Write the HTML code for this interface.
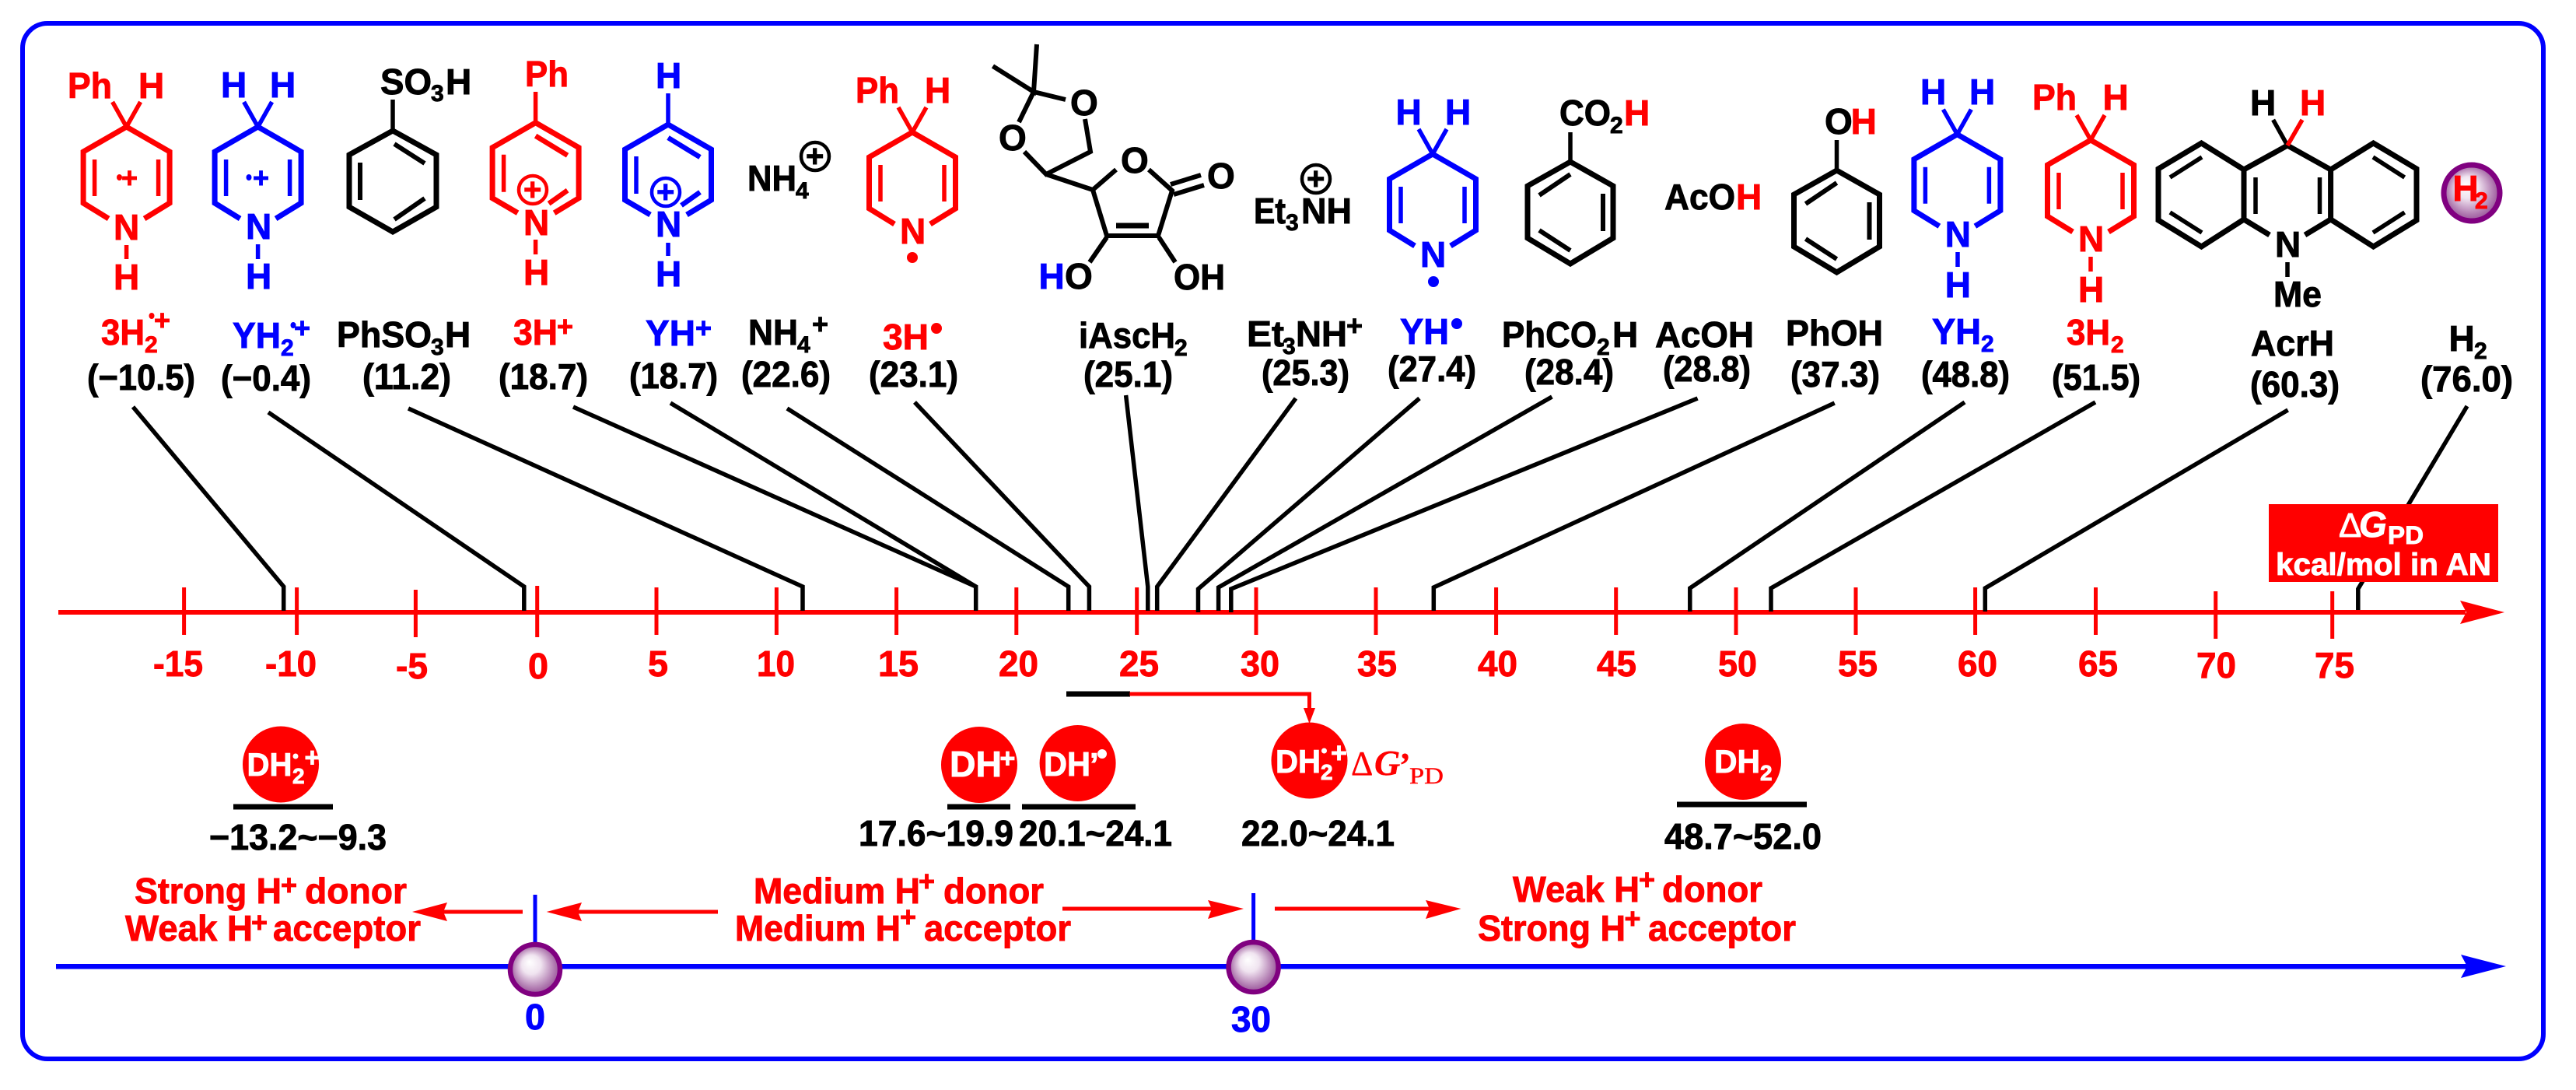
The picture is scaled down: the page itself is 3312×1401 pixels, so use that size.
<!DOCTYPE html>
<html><head><meta charset="utf-8"><style>
html,body{margin:0;padding:0;background:#fff}
svg{display:block}
text{font-family:"Liberation Sans",sans-serif;font-weight:bold;font-size:46px;fill:#000;stroke:#000;stroke-width:.9}
.r{fill:#f00;stroke:#f00}.b{fill:#00f;stroke:#00f}.w{fill:#fff;stroke:#fff}
.s{font-size:30px}.p{font-size:36px}.t{font-size:46px}
.l{fill:none;stroke:#000;stroke-width:5.5}
.sf{font-family:"Liberation Serif",serif;stroke-width:.4}
</style></head><body>
<svg xmlns="http://www.w3.org/2000/svg" width="3312" height="1401" viewBox="0 0 3312 1401">
<defs>
<radialGradient id="ball" cx="50%" cy="50%" r="55%" fx="38%" fy="35%"><stop offset="0" stop-color="#fff"/><stop offset=".35" stop-color="#f0e4f0"/><stop offset=".8" stop-color="#aa70aa"/><stop offset="1" stop-color="#904090"/></radialGradient>
<g id="dhp" fill="none" stroke="currentColor">
<path stroke-width="7" d="M-23 118L-55.5 98V32L0 0L55.5 32V98L23 118" stroke-linejoin="miter"/>
<path stroke-width="5.5" d="M-41 42V89M41 42V89M0 0L-18 -32M0 0L18 -32"/>
</g>
<g id="py" fill="none" stroke="currentColor">
<path stroke-width="7" d="M-23 116L-55.5 97V32L0 0L55.5 32V97L24 116"/>
<path stroke-width="5.5" d="M-41 41V89"/>
<path stroke-width="6.5" d="M0 17L41 42M17 104L41 87"/>
</g>
<g id="bz1" fill="none" stroke="#000">
<path stroke-width="7" d="M0 0L-56 31V98L0 130L56 98V31Z"/>
<path stroke-width="6" d="M-42 41V89M2 17L41 42M41 87L2 114"/>
</g>
<g id="bz2" fill="none" stroke="#000">
<path stroke-width="7" d="M0 0L-55 31V98L0 131L55 98V31Z"/>
<path stroke-width="6" d="M42 41V89M0 16L-40 43M-40 88L0 114"/>
</g>
</defs>

<rect x="29" y="30" width="3241" height="1331" rx="32" ry="32" fill="none" stroke="#00f" stroke-width="6"/>

<!-- red axis -->
<rect x="75" y="784" width="3095" height="6" fill="#f00"/>
<polygon points="3163,772 3220,787 3163,802 3171,787" fill="#f00"/>
<g stroke="#f00" stroke-width="5">
<path d="M236.6 755V816M381.6 755V816M534.4 758V819M690.7 753V819M844 755V816M998.4 755V816M1152.6 755V816M1306.8 755V816M1461.7 755V816M1615 755V816M1769 755V816M1923.6 755V816M2077.7 755V816M2232 755V816M2386 755V816M2539.6 755V816M2694.5 755V816M2848.7 760V821M2998.7 760V821"/>
</g>
<g class="r">
<text class="r" x="197" y="869" textLength="64" lengthAdjust="spacingAndGlyphs">-15</text>
<text class="r" x="341" y="869" textLength="66" lengthAdjust="spacingAndGlyphs">-10</text>
<text class="r" x="509" y="872" textLength="41" lengthAdjust="spacingAndGlyphs">-5</text>
<text class="r" x="679" y="872" textLength="26" lengthAdjust="spacingAndGlyphs">0</text>
<text class="r" x="833" y="869" textLength="26" lengthAdjust="spacingAndGlyphs">5</text>
<text class="r" x="973" y="869" textLength="49" lengthAdjust="spacingAndGlyphs">10</text>
<text class="r" x="1129" y="869" textLength="52" lengthAdjust="spacingAndGlyphs">15</text>
<text class="r" x="1284" y="869" textLength="51" lengthAdjust="spacingAndGlyphs">20</text>
<text class="r" x="1439" y="869" textLength="51" lengthAdjust="spacingAndGlyphs">25</text>
<text class="r" x="1595" y="869" textLength="50" lengthAdjust="spacingAndGlyphs">30</text>
<text class="r" x="1745" y="869" textLength="51" lengthAdjust="spacingAndGlyphs">35</text>
<text class="r" x="1900" y="869" textLength="51" lengthAdjust="spacingAndGlyphs">40</text>
<text class="r" x="2053" y="869" textLength="51" lengthAdjust="spacingAndGlyphs">45</text>
<text class="r" x="2209" y="869" textLength="50" lengthAdjust="spacingAndGlyphs">50</text>
<text class="r" x="2363" y="869" textLength="51" lengthAdjust="spacingAndGlyphs">55</text>
<text class="r" x="2517" y="869" textLength="51" lengthAdjust="spacingAndGlyphs">60</text>
<text class="r" x="2672" y="869" textLength="51" lengthAdjust="spacingAndGlyphs">65</text>
<text class="r" x="2824" y="871" textLength="51" lengthAdjust="spacingAndGlyphs">70</text>
<text class="r" x="2976" y="871" textLength="51" lengthAdjust="spacingAndGlyphs">75</text>
</g>

<!-- connectors -->
<polyline class="l" points="171,523 364.7,754 364.7,785"/>
<polyline class="l" points="345,530 673.8,754 673.8,785"/>
<polyline class="l" points="525,525 1032,754 1032,785"/>
<polyline class="l" points="737,523 1254.7,754 1254.7,785"/>
<polyline class="l" points="862,518 1254.7,754"/>
<polyline class="l" points="1012,525 1373.7,754 1373.7,785"/>
<polyline class="l" points="1176,517 1400.4,754 1400.4,785"/>
<polyline class="l" points="1447.6,508 1475.8,754 1475.8,785"/>
<polyline class="l" points="1666,512 1487.7,754 1487.7,785"/>
<polyline class="l" points="1825,512 1540.5,757 1540.5,787"/>
<polyline class="l" points="1995.4,510 1566.6,755 1566.6,785"/>
<polyline class="l" points="2182.6,512 1582.8,757 1582.8,787"/>
<polyline class="l" points="2358.7,518 1843.3,755 1843.3,785"/>
<polyline class="l" points="2526,517 2172.8,756 2172.8,786"/>
<polyline class="l" points="2694,517 2277,756 2277,786"/>
<polyline class="l" points="2941.6,527 2552.3,756 2552.3,786"/>
<polyline class="l" points="3172,522 3031.8,757 3031.8,784"/>

<!-- red legend box -->
<rect x="2917" y="648" width="295" height="100" fill="#f00"/>
<text class="w" x="3007" y="690" style="font-weight:normal;font-size:44px">Δ</text>
<text class="w" x="3033" y="690" style="font-style:italic">G</text>
<text class="w" x="3070" y="699" style="font-size:32px" textLength="46" lengthAdjust="spacingAndGlyphs">PD</text>
<text class="w" x="2926" y="739" style="font-size:40px" textLength="277" lengthAdjust="spacingAndGlyphs">kcal/mol in AN</text>

<!-- Molecule A -->
<use href="#dhp" x="162.6" y="163" style="color:#f00"/>
<text class="r" x="87" y="126" textLength="57" lengthAdjust="spacingAndGlyphs">Ph</text>
<text class="r" x="178" y="126">H</text>
<text class="r" x="146" y="308">N</text>
<path d="M162.6 315V333" stroke="#f00" stroke-width="5.5"/>
<text class="r" x="146" y="372">H</text>
<ellipse cx="153.5" cy="228" rx="3.5" ry="4" fill="#f00"/>
<text class="r p" x="156" y="241">+</text>

<!-- Molecule B -->
<use href="#dhp" x="331.6" y="163" style="color:#00f"/>
<text class="b" x="284" y="125">H</text>
<text class="b" x="347" y="125">H</text>
<text class="b" x="316" y="307">N</text>
<path d="M331.6 314V333" stroke="#00f" stroke-width="5.5"/>
<text class="b" x="316" y="371">H</text>
<ellipse cx="320" cy="228" rx="3.5" ry="4" fill="#00f"/>
<text class="b p" x="325" y="241">+</text>

<!-- C PhSO3H -->
<use href="#bz1" x="505" y="168"/>
<path d="M505 128V168" stroke="#000" stroke-width="5.5"/>
<text x="489" y="121" textLength="66" lengthAdjust="spacingAndGlyphs">SO</text>
<text class="s" x="554" y="130">3</text>
<text x="573" y="121">H</text>

<!-- D -->
<use href="#py" x="688.6" y="157.7" style="color:#f00"/>
<path d="M688.6 118V158M688.6 308V327" stroke="#f00" stroke-width="5.5"/>
<text class="r" x="675" y="111" textLength="56" lengthAdjust="spacingAndGlyphs">Ph</text>
<text class="r" x="673" y="302">N</text>
<text class="r" x="673" y="366">H</text>
<circle cx="685" cy="244" r="18" fill="none" stroke="#f00" stroke-width="4.5"/>
<text class="r" x="673" y="257" style="font-size:40px">+</text>

<!-- E -->
<use href="#py" x="859" y="160" style="color:#00f"/>
<path d="M859 120V160M859 312V329" stroke="#00f" stroke-width="5.5"/>
<text class="b" x="843" y="113">H</text>
<text class="b" x="843" y="304">N</text>
<text class="b" x="843" y="368">H</text>
<circle cx="856" cy="247" r="18" fill="none" stroke="#00f" stroke-width="4.5"/>
<text class="b" x="844" y="260" style="font-size:40px">+</text>

<!-- F NH4+ -->
<text x="961" y="245" textLength="63" lengthAdjust="spacingAndGlyphs">NH</text>
<text class="s" x="1023" y="255">4</text>
<circle cx="1048" cy="201" r="18" fill="none" stroke="#000" stroke-width="4.5"/>
<text x="1036" y="214" style="font-size:40px">+</text>

<!-- G 3H radical -->
<use href="#dhp" x="1173" y="170" style="color:#f00"/>
<text class="r" x="1100" y="132" textLength="56" lengthAdjust="spacingAndGlyphs">Ph</text>
<text class="r" x="1189" y="132">H</text>
<text class="r" x="1157" y="313">N</text>
<circle cx="1173" cy="331" r="7" fill="#f00"/>

<!-- H iAscH2 -->
<g fill="none" stroke="#000" stroke-width="6">
<path d="M1333 57L1329 118L1276.5 85M1329 118L1370 128M1329 118L1310 157M1395 153L1402 195L1345 224L1317 195M1345 224L1405 244L1435 218M1477 218L1507 245L1489 303H1423L1405 244M1505 237L1544 225M1509 250L1548 238M1423 305L1401 337M1490 305L1511 337"/>
</g>
<path d="M1435 290H1477" stroke="#000" stroke-width="7"/>
<text x="1376" y="148">O</text>
<text x="1284" y="193">O</text>
<text x="1441" y="222">O</text>
<text x="1552" y="242">O</text>
<text class="b" x="1335.5" y="371">H</text>
<text x="1369" y="371">O</text>
<text x="1509" y="372" textLength="66" lengthAdjust="spacingAndGlyphs">OH</text>

<!-- I Et3NH+ -->
<text x="1612" y="287" textLength="41" lengthAdjust="spacingAndGlyphs">Et</text>
<text class="s" x="1653" y="296">3</text>
<text x="1673" y="287" textLength="65" lengthAdjust="spacingAndGlyphs">NH</text>
<circle cx="1692" cy="230" r="18" fill="none" stroke="#000" stroke-width="4.5"/>
<text x="1680" y="243" style="font-size:40px">+</text>

<!-- J YH radical -->
<use href="#dhp" x="1842" y="198" style="color:#00f"/>
<text class="b" x="1794.5" y="160">H</text>
<text class="b" x="1858" y="160">H</text>
<text class="b" x="1826" y="343">N</text>
<circle cx="1843" cy="362" r="7" fill="#00f"/>

<!-- K PhCO2H -->
<use href="#bz2" x="2019" y="208"/>
<path d="M2019 170V208" stroke="#000" stroke-width="5.5"/>
<text x="2005" y="161" textLength="66" lengthAdjust="spacingAndGlyphs">CO</text>
<text class="s" x="2070" y="171">2</text>
<text class="r" x="2088" y="161">H</text>

<!-- L AcOH -->
<text x="2140" y="269" textLength="91" lengthAdjust="spacingAndGlyphs">AcO</text>
<text class="r" x="2232" y="269">H</text>

<!-- M PhOH -->
<use href="#bz2" x="2361.5" y="219"/>
<path d="M2361.5 180V219" stroke="#000" stroke-width="5.5"/>
<text x="2346" y="172">O</text>
<text class="r" x="2379.6" y="172">H</text>

<!-- N YH2 -->
<use href="#dhp" x="2516.4" y="172.7" style="color:#00f"/>
<text class="b" x="2469" y="134">H</text>
<text class="b" x="2532" y="134">H</text>
<text class="b" x="2500.7" y="317">N</text>
<path d="M2517 324V343" stroke="#00f" stroke-width="5.5"/>
<text class="b" x="2500.7" y="382">H</text>

<!-- O 3H2 -->
<use href="#dhp" x="2688" y="180" style="color:#f00"/>
<text class="r" x="2613" y="141" textLength="57" lengthAdjust="spacingAndGlyphs">Ph</text>
<text class="r" x="2703.5" y="141">H</text>
<text class="r" x="2672" y="323">N</text>
<path d="M2688 330V349" stroke="#f00" stroke-width="5.5"/>
<text class="r" x="2672" y="388">H</text>

<!-- P AcrH -->
<g fill="none" stroke="#000">
<path stroke-width="7" d="M2918 302L2885 282V218L2941 187L2996.6 218V282L2963.5 302M2885 218L2830.4 184L2775 217V283L2830.4 317L2885 282M2996.6 218L3051.5 184L3107 217V283L3051.5 317L2996.6 282"/>
<path stroke-width="5.5" d="M2900 228V275M2982.5 228V275M2790 228L2831 202M2790 273L2831 299M3051 202L3091.6 228M3051 299L3091.6 273M2941 337V356M2941 187L2922.6 154"/>
</g>
<path d="M2941 187L2960 154" stroke="#f00" stroke-width="5.5" fill="none"/>
<text x="2893" y="148">H</text>
<text class="r" x="2957" y="148">H</text>
<text x="2925" y="330">N</text>
<text x="2923" y="394" textLength="62" lengthAdjust="spacingAndGlyphs">Me</text>

<!-- Q H2 ball -->
<circle cx="3178" cy="248" r="36" fill="url(#ball)" stroke="#800080" stroke-width="7"/>
<text class="r" x="3153.4" y="258">H</text>
<text class="r s" x="3182" y="268">2</text>

<!-- name labels -->
<text class="r" x="130" y="443" textLength="56" lengthAdjust="spacingAndGlyphs">3H</text>
<text class="r s" x="186" y="453">2</text>
<ellipse cx="195" cy="406" rx="3.5" ry="4" fill="#f00"/>
<text class="r p" x="198" y="424">+</text>
<text x="112" y="501" textLength="139" lengthAdjust="spacingAndGlyphs">(−10.5)</text>

<text class="b" x="299" y="447" textLength="62" lengthAdjust="spacingAndGlyphs">YH</text>
<text class="b s" x="361" y="457">2</text>
<ellipse cx="377" cy="418" rx="3.5" ry="4" fill="#00f"/>
<text class="b p" x="378" y="434">+</text>
<text x="284" y="502" textLength="116" lengthAdjust="spacingAndGlyphs">(−0.4)</text>

<text x="433" y="446" textLength="122" lengthAdjust="spacingAndGlyphs">PhSO</text>
<text class="s" x="554" y="456">3</text>
<text x="572" y="446">H</text>
<text x="466" y="500" textLength="114" lengthAdjust="spacingAndGlyphs">(11.2)</text>

<text class="r" x="660" y="443" textLength="57" lengthAdjust="spacingAndGlyphs">3H</text>
<text class="r p" x="716" y="432">+</text>
<text x="641" y="500" textLength="115" lengthAdjust="spacingAndGlyphs">(18.7)</text>

<text class="b" x="830" y="444" textLength="64" lengthAdjust="spacingAndGlyphs">YH</text>
<text class="b p" x="894" y="434">+</text>
<text x="809" y="499" textLength="114" lengthAdjust="spacingAndGlyphs">(18.7)</text>

<text x="962" y="443" textLength="64" lengthAdjust="spacingAndGlyphs">NH</text>
<text class="s" x="1025" y="453">4</text>
<text class="p" x="1044" y="429">+</text>
<text x="953" y="497" textLength="115" lengthAdjust="spacingAndGlyphs">(22.6)</text>

<text class="r" x="1135" y="449" textLength="59" lengthAdjust="spacingAndGlyphs">3H</text>
<circle cx="1204" cy="422" r="7" fill="#f00"/>
<text x="1117" y="497" textLength="115" lengthAdjust="spacingAndGlyphs">(23.1)</text>

<text x="1387" y="447" textLength="124" lengthAdjust="spacingAndGlyphs">iAscH</text>
<text class="s" x="1510" y="457">2</text>
<text x="1393" y="497" textLength="115" lengthAdjust="spacingAndGlyphs">(25.1)</text>

<text x="1603" y="445" textLength="48" lengthAdjust="spacingAndGlyphs">Et</text>
<text class="s" x="1649" y="455">3</text>
<text x="1666" y="445" textLength="66" lengthAdjust="spacingAndGlyphs">NH</text>
<text class="p" x="1731" y="431">+</text>
<text x="1622" y="495" textLength="113" lengthAdjust="spacingAndGlyphs">(25.3)</text>

<text class="b" x="1800" y="442" textLength="63" lengthAdjust="spacingAndGlyphs">YH</text>
<circle cx="1873" cy="416" r="7" fill="#00f"/>
<text x="1784" y="490" textLength="114" lengthAdjust="spacingAndGlyphs">(27.4)</text>

<text x="1931" y="446" textLength="122" lengthAdjust="spacingAndGlyphs">PhCO</text>
<text class="s" x="2053" y="456">2</text>
<text x="2073" y="446">H</text>
<text x="1960" y="494" textLength="115" lengthAdjust="spacingAndGlyphs">(28.4)</text>

<text x="2128" y="446" textLength="127" lengthAdjust="spacingAndGlyphs">AcOH</text>
<text x="2138" y="490" textLength="113" lengthAdjust="spacingAndGlyphs">(28.8)</text>

<text x="2296" y="444" textLength="125" lengthAdjust="spacingAndGlyphs">PhOH</text>
<text x="2302" y="497" textLength="115" lengthAdjust="spacingAndGlyphs">(37.3)</text>

<text class="b" x="2484" y="442" textLength="63" lengthAdjust="spacingAndGlyphs">YH</text>
<text class="b s" x="2547" y="452">2</text>
<text x="2470" y="497" textLength="114" lengthAdjust="spacingAndGlyphs">(48.8)</text>

<text class="r" x="2657" y="443" textLength="56" lengthAdjust="spacingAndGlyphs">3H</text>
<text class="r s" x="2714" y="453">2</text>
<text x="2638" y="501" textLength="114" lengthAdjust="spacingAndGlyphs">(51.5)</text>

<text x="2894" y="457" textLength="107" lengthAdjust="spacingAndGlyphs">AcrH</text>
<text x="2893" y="510" textLength="115" lengthAdjust="spacingAndGlyphs">(60.3)</text>

<text x="3148.5" y="451">H</text>
<text class="s" x="3181" y="461">2</text>
<text x="3112" y="503" textLength="119" lengthAdjust="spacingAndGlyphs">(76.0)</text>

<!-- Pointer -->
<rect x="1371" y="888.5" width="82" height="7" fill="#000"/>
<path d="M1452.5 892H1683.5V912" fill="none" stroke="#f00" stroke-width="5"/>
<polygon points="1676,910 1691,910 1683.5,930" fill="#f00"/>

<!-- DH circles -->
<circle cx="361" cy="982.5" r="49" fill="#f00"/>
<text class="w" x="317.5" y="997" style="font-size:42px" textLength="58" lengthAdjust="spacingAndGlyphs">DH</text>
<text class="w" x="376" y="1007" style="font-size:28px">2</text>
<circle cx="380" cy="972" r="3.5" fill="#fff"/>
<text class="w" x="391.5" y="985" style="font-size:34px">+</text>
<rect x="300" y="1033.5" width="128" height="7" fill="#000"/>
<text x="269" y="1092" textLength="228" lengthAdjust="spacingAndGlyphs">−13.2~−9.3</text>

<circle cx="1259" cy="983" r="49" fill="#f00"/>
<text class="w" x="1221" y="998" textLength="67" lengthAdjust="spacingAndGlyphs">DH</text>
<text class="w" x="1285.5" y="986" style="font-size:34px">+</text>
<rect x="1218" y="1033.5" width="81" height="7" fill="#000"/>

<circle cx="1385.6" cy="981" r="49" fill="#f00"/>
<text class="w" x="1342" y="997" style="font-size:44px" textLength="60" lengthAdjust="spacingAndGlyphs">DH</text>
<text class="w" x="1401" y="997" style="font-size:42px">’</text>
<circle cx="1417" cy="969" r="6" fill="#fff"/>
<rect x="1314" y="1033.5" width="146" height="7" fill="#000"/>

<text x="1104" y="1087" textLength="199" lengthAdjust="spacingAndGlyphs">17.6~19.9</text>
<text x="1310" y="1087" textLength="197" lengthAdjust="spacingAndGlyphs">20.1~24.1</text>

<circle cx="1683.5" cy="977.5" r="49" fill="#f00"/>
<text class="w" x="1640" y="993" style="font-size:42px" textLength="58" lengthAdjust="spacingAndGlyphs">DH</text>
<text class="w" x="1698" y="1002" style="font-size:28px">2</text>
<circle cx="1702.5" cy="965" r="3.5" fill="#fff"/>
<text class="w" x="1711" y="980" style="font-size:36px">+</text>
<text class="r sf" x="1737" y="996" style="font-weight:normal;font-size:44px">Δ</text>
<text class="r sf" x="1767" y="996" style="font-style:italic;font-size:46px">G</text>
<text class="r sf" x="1799" y="998" style="font-size:44px">’</text>
<text class="r sf" x="1812" y="1007" style="font-size:30px;font-weight:normal" textLength="44" lengthAdjust="spacingAndGlyphs">PD</text>
<text x="1596" y="1087" textLength="197" lengthAdjust="spacingAndGlyphs">22.0~24.1</text>

<circle cx="2241" cy="979" r="49" fill="#f00"/>
<text class="w" x="2204" y="993" style="font-size:42px" textLength="59" lengthAdjust="spacingAndGlyphs">DH</text>
<text class="w" x="2263" y="1003" style="font-size:28px">2</text>
<rect x="2156" y="1030.5" width="167" height="7" fill="#000"/>
<text x="2140" y="1091" textLength="202" lengthAdjust="spacingAndGlyphs">48.7~52.0</text>

<!-- red text bottom -->
<text class="r" x="173" y="1161" textLength="189" lengthAdjust="spacingAndGlyphs">Strong H</text>
<text class="r p" x="361" y="1150">+</text>
<text class="r" x="392" y="1161" textLength="131" lengthAdjust="spacingAndGlyphs">donor</text>
<text class="r" x="161" y="1209" textLength="164" lengthAdjust="spacingAndGlyphs">Weak H</text>
<text class="r p" x="323" y="1198">+</text>
<text class="r" x="351" y="1209" textLength="190" lengthAdjust="spacingAndGlyphs">acceptor</text>

<text class="r" x="969" y="1161" textLength="214" lengthAdjust="spacingAndGlyphs">Medium H</text>
<text class="r p" x="1181" y="1145">+</text>
<text class="r" x="1213" y="1161" textLength="129" lengthAdjust="spacingAndGlyphs">donor</text>
<text class="r" x="945" y="1209" textLength="213" lengthAdjust="spacingAndGlyphs">Medium H</text>
<text class="r p" x="1157" y="1191">+</text>
<text class="r" x="1188" y="1209" textLength="189" lengthAdjust="spacingAndGlyphs">acceptor</text>

<text class="r" x="1945" y="1159" textLength="163" lengthAdjust="spacingAndGlyphs">Weak H</text>
<text class="r p" x="2107" y="1143">+</text>
<text class="r" x="2137" y="1159" textLength="129" lengthAdjust="spacingAndGlyphs">donor</text>
<text class="r" x="1900" y="1209" textLength="190" lengthAdjust="spacingAndGlyphs">Strong H</text>
<text class="r p" x="2088.5" y="1193">+</text>
<text class="r" x="2119" y="1209" textLength="190" lengthAdjust="spacingAndGlyphs">acceptor</text>

<!-- red arrows -->
<g fill="#f00">
<rect x="570" y="1169.5" width="102" height="5"/><polygon points="530,1172 575,1160 570,1172 575,1184"/>
<rect x="743" y="1169.5" width="180" height="5"/><polygon points="702.7,1172 748,1160 743,1172 748,1184"/>
<rect x="1366" y="1165.5" width="192" height="5"/><polygon points="1599,1168 1553,1157 1558,1168 1553,1181"/>
<rect x="1639" y="1165.5" width="199" height="5"/><polygon points="1878.5,1168 1833,1157 1838,1168 1833,1181"/>
</g>

<!-- blue axis -->
<rect x="72" y="1239" width="3100" height="6.5" fill="#00f"/>
<polygon points="3164,1227 3222,1242 3164,1257 3172,1242" fill="#00f"/>
<path d="M688 1150V1212M1611.6 1148V1210" stroke="#00f" stroke-width="5"/>
<circle cx="688" cy="1246" r="32" fill="url(#ball)" stroke="#800080" stroke-width="6.5"/>
<circle cx="1611.6" cy="1243" r="32" fill="url(#ball)" stroke="#800080" stroke-width="6.5"/>
<text class="b" x="675" y="1323" textLength="26" lengthAdjust="spacingAndGlyphs">0</text>
<text class="b" x="1583" y="1326" textLength="51" lengthAdjust="spacingAndGlyphs">30</text>
</svg>
</body></html>
